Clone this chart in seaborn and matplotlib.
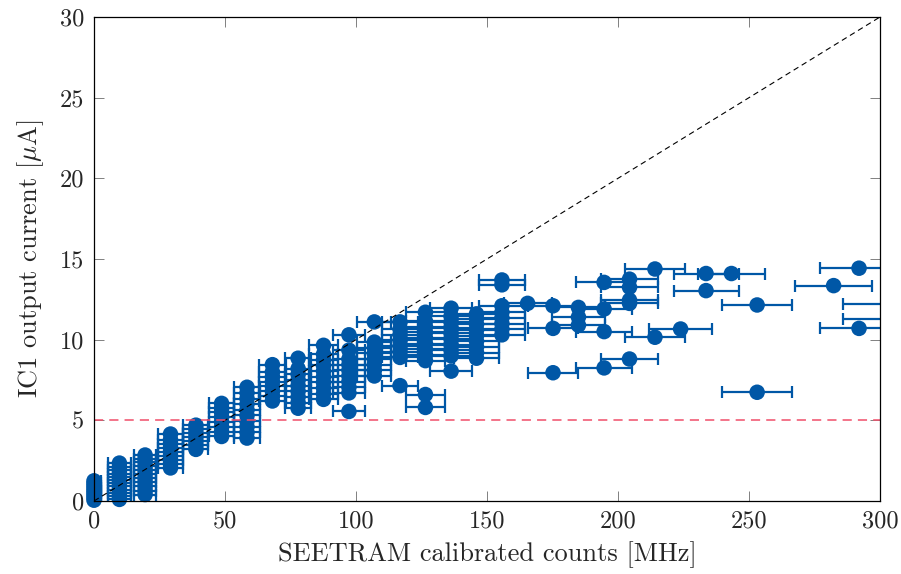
import numpy as np
import pandas as pd
import matplotlib
matplotlib.use("Agg")
import matplotlib.pyplot as plt
import seaborn as sns

# ---- data ----
col_x = [0, 9.7, 19.5, 29.2, 38.9, 48.7, 58.4, 68.1, 77.9, 87.6, 97.3, 107.0,
         116.8, 126.5, 136.3, 146.0, 155.7, 165.5, 175.2, 184.9, 194.7, 204.4,
         214.1, 223.9, 233.6, 243.3, 253.1, 282.3, 292.0, 303.0]
col_xerr = [2.5, 4.3, 4.3, 4.8, 4.8, 4.9, 5.1, 5.1, 5.0, 5.6, 6.0, 6.5,
            7.0, 7.4, 8.1, 8.5, 8.8, 9.2, 9.5, 10.2, 10.6, 11.0,
            11.5, 12.0, 12.4, 12.7, 13.4, 14.6, 15.0, 17.0]
col_y = [
    [0.05, 0.2, 0.35, 0.5, 0.65, 0.8, 0.95, 1.1, 1.25],
    [0.1, 0.3, 0.5, 0.7, 0.9, 1.1, 1.3, 1.5, 1.7, 1.9, 2.1, 2.35],
    [0.4, 0.65, 0.9, 1.15, 1.4, 1.65, 1.9, 2.15, 2.4, 2.6, 2.85],
    [2.05, 2.3, 2.55, 2.8, 3.05, 3.3, 3.55, 3.8, 4.15],
    [3.2, 3.45, 3.7, 3.95, 4.2, 4.45, 4.7],
    [4.0, 4.3, 4.6, 4.9, 5.2, 5.5, 5.75, 6.05],
    [3.9, 4.25, 4.6, 4.95, 5.3, 5.65, 6.0, 6.35, 6.7, 7.05],
    [6.2, 6.5, 6.8, 7.1, 7.4, 7.7, 8.0, 8.45],
    [5.75, 6.1, 6.45, 6.8, 7.15, 7.5, 7.85, 8.2, 8.85],
    [6.3, 6.65, 7.0, 7.35, 7.7, 8.05, 8.4, 8.75, 9.1, 9.65],
    [5.55, 6.7, 7.05, 7.4, 7.75, 8.1, 8.45, 8.8, 9.35, 10.3],
    [7.75, 8.1, 8.45, 8.8, 9.15, 9.5, 9.85, 11.1],
    [7.15, 8.9, 9.25, 9.6, 9.95, 10.3, 10.65, 11.1],
    [5.8, 6.6, 8.7, 9.05, 9.4, 9.75, 10.1, 10.45, 10.8, 11.15, 11.7],
    [8.05, 9.0, 9.35, 9.7, 10.05, 10.4, 10.75, 11.1, 11.45, 11.95],
    [8.85, 9.2, 9.55, 9.9, 10.25, 10.6, 10.95, 11.3, 11.6],
    [10.3, 10.65, 11.0, 11.35, 11.7, 12.1, 13.4, 13.7],
    [12.25],
    [7.95, 10.7, 12.1],
    [10.9, 11.4, 12.0],
    [8.25, 10.5, 11.9, 13.55],
    [8.8, 12.25, 12.45, 13.25, 13.75],
    [10.15, 14.38],
    [10.66],
    [13.04, 14.1],
    [14.1],
    [6.74, 12.15],
    [13.35],
    [10.7, 14.43],
    [11.28, 12.19],
]

rows = []
for x, e, ys in zip(col_x, col_xerr, col_y):
    for y in ys:
        rows.append((x, y, e))
df = pd.DataFrame(rows, columns=["counts", "current", "xerr"])

line_x = [0, 300]
line_y = [0, 30]
thr_x = [0, 300]
thr_y = [5, 5]

x_ticks = [0, 50, 100, 150, 200, 250, 300]
y_ticks = [0, 5, 10, 15, 20, 25, 30]

# ---- style ----
sns.set_style("ticks")
plt.rcParams["font.family"] = ["cmr10", "DejaVu Serif"]
plt.rcParams["axes.formatter.use_mathtext"] = True
plt.rcParams["mathtext.fontset"] = "cm"

blue = "#0057A6"
fs_tick = 17.5
fs_lab = 19

fig = plt.figure(figsize=(9.01, 5.74), dpi=100)
ax = fig.add_axes([94 / 901, 1 - 501 / 574, 786 / 901, 484 / 574])

ax.errorbar(df["counts"], df["current"], xerr=df["xerr"], fmt="none",
            ecolor=blue, elinewidth=1.6, capsize=4.5, capthick=1.6, zorder=2)

vis = df[df["counts"] <= 300]
sns.scatterplot(data=vis, x="counts", y="current", ax=ax, color=blue,
                s=125, edgecolor="none", linewidth=0, zorder=3, clip_on=False,
                legend=False)

sns.lineplot(x=line_x, y=line_y, ax=ax, color="black", linewidth=0.8,
             dashes=False, zorder=5)
ax.lines[-1].set_dashes([5, 3.5])
sns.lineplot(x=thr_x, y=thr_y, ax=ax, color="#F04E6A", linewidth=1.1,
             dashes=False, zorder=5)
ax.lines[-1].set_dashes([6, 4])

ax.set_xlim(0, 300)
ax.set_ylim(0, 30)
ax.set_xticks(x_ticks)
ax.set_yticks(y_ticks)
ax.set_xticklabels([str(t) for t in x_ticks], fontsize=fs_tick)
ax.set_yticklabels([str(t) for t in y_ticks], fontsize=fs_tick)
ax.tick_params(direction="in", length=7.5, width=0.7, color="#808080",
               top=True, right=True, pad=7)
for sp in ax.spines.values():
    sp.set_visible(True)
    sp.set_color("black")
    sp.set_linewidth(0.9)
    sp.set_zorder(6)

ax.set_xlabel("SEETRAM calibrated counts [MHz]", fontsize=fs_lab, labelpad=6)
ax.set_ylabel(r"IC1 output current [$\mu$A]", fontsize=fs_lab, labelpad=10)

fig.savefig("out.png", dpi=100)
